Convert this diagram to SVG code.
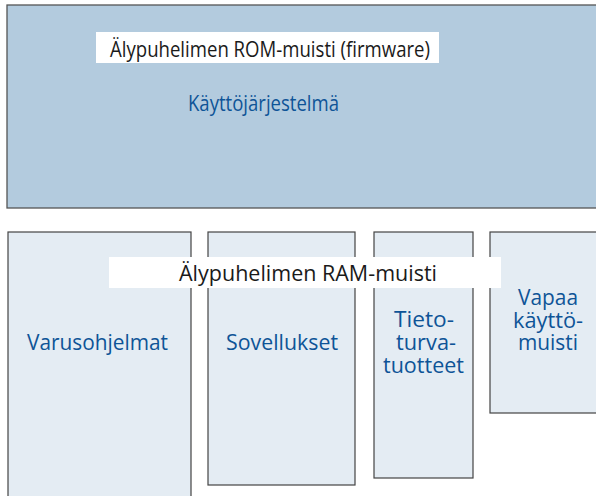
<svg xmlns="http://www.w3.org/2000/svg" width="596" height="496" viewBox="0 0 596 496">
<style>
.rom{fill:#b3cbde;stroke:#555;stroke-width:1.3}
.ram{fill:#e4ecf3;stroke:#444;stroke-width:1.2}
.lbl{fill:#fff}
.t{font-family:"Open Sans","Liberation Sans",sans-serif;font-size:21px;text-anchor:middle}
.blk{fill:#1a1a1a}
.blu{fill:#0e5497}
</style>
<rect width="596" height="496" fill="#fff"/>
<g id="rom">
<rect class="rom" x="7" y="5" width="600" height="203"/>
<rect class="lbl" x="96" y="32" width="343" height="31"/>
<text class="t blk" x="270" y="57" textLength="320" lengthAdjust="spacingAndGlyphs">Älypuhelimen ROM-muisti (firmware)</text>
<text class="t blu" x="263.5" y="111" textLength="151" lengthAdjust="spacingAndGlyphs">Käyttöjärjestelmä</text>
</g>
<g id="varusohjelmat">
<rect class="ram" x="8" y="232" width="183" height="280"/>
<text class="t blu" x="97.5" y="350" textLength="141" lengthAdjust="spacingAndGlyphs">Varusohjelmat</text>
</g>
<g id="sovellukset">
<rect class="ram" x="208" y="232" width="147" height="253"/>
<text class="t blu" x="282" y="350" textLength="112" lengthAdjust="spacingAndGlyphs">Sovellukset</text>
</g>
<g id="tietoturva">
<rect class="ram" x="374" y="232" width="99" height="246"/>
<text class="t blu" x="424" y="327" textLength="60" lengthAdjust="spacingAndGlyphs">Tieto-</text>
<text class="t blu" x="426" y="350" textLength="60" lengthAdjust="spacingAndGlyphs">turva-</text>
<text class="t blu" x="423.5" y="373" textLength="81" lengthAdjust="spacingAndGlyphs">tuotteet</text>
</g>
<g id="vapaa">
<rect class="ram" x="490" y="232" width="120" height="181"/>
<text class="t blu" x="548" y="305" textLength="60" lengthAdjust="spacingAndGlyphs">Vapaa</text>
<text class="t blu" x="548" y="328" textLength="70" lengthAdjust="spacingAndGlyphs">käyttö-</text>
<text class="t blu" x="548" y="350" textLength="60" lengthAdjust="spacingAndGlyphs">muisti</text>
</g>
<g id="ram-label">
<rect class="lbl" x="109" y="257" width="392" height="31"/>
<text class="t blk" x="308" y="281" textLength="258" lengthAdjust="spacingAndGlyphs">Älypuhelimen RAM-muisti</text>
</g>
</svg>
